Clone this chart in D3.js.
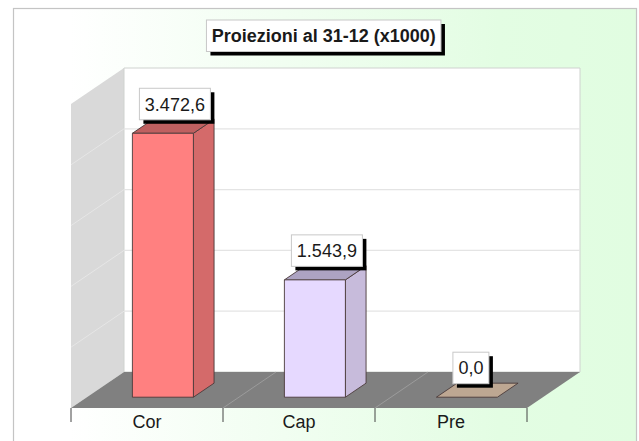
<!DOCTYPE html>
<html>
<head>
<meta charset="utf-8">
<script src="https://cdnjs.cloudflare.com/ajax/libs/d3/7.8.5/d3.min.js"></script>
<style>
  html, body { margin: 0; padding: 0; background: #fff; overflow: hidden; }
  svg { display: block; }
  text { font-family: "Liberation Sans", Arial, sans-serif; fill: #1a1a1a; }
</style>
</head>
<body>
<div id="chart"></div>
<script>
const chartTitle = 'Proiezioni al 31-12 (x1000)';
const categories = ['Cor', 'Cap', 'Pre'];
const values = [3472.6, 1543.9, 0];
const valueLabels = ['3.472,6', '1.543,9', '0,0'];
const gridValues = [800, 1600, 2400, 3200];
const frontColors = ['#ff8080', '#e6d9ff', '#bda792'];
const sideColors = ['#d46a6a', '#c7bbdb', '#9d8b79'];
const topColors = ['#bf6060', '#ada3c2', '#bda792'];

const W = 639, H = 441;
const svg = d3.select('#chart').append('svg').attr('width', W).attr('height', H);

const grad = svg.append('defs').append('linearGradient').attr('id', 'bg');
grad.append('stop').attr('offset', '9%').attr('stop-color', '#ffffff');
grad.append('stop').attr('offset', '78%').attr('stop-color', '#e3fde3');
grad.append('stop').attr('offset', '100%').attr('stop-color', '#e1fde1');

svg.append('rect').attr('x', 13.5).attr('y', 8.5).attr('width', 623).attr('height', 440)
  .attr('fill', 'url(#bg)').attr('stroke', '#c4c4c4').attr('stroke-width', 1.2);

// front plane of the plot, back wall sits depthX/depthY away from it
const x = d3.scaleBand().domain(categories).range([71, 527]).paddingInner(0).paddingOuter(0);
const y = d3.scaleLinear().domain([0, 4000]).range([408, 104]);
const depthX = 53, depthY = -36;
const barDepth = [0.3, 0.69];
const barWidth = 61;

const pt = (px, py, d) => [px + depthX * d, py + depthY * d];
const line = d3.line();
const poly = pts => line(pts) + 'Z';

const y0 = y(0), yMax = y(4000);

// walls and floor
svg.append('path')
  .attr('d', poly([pt(71, yMax, 0), pt(71, yMax, 1), pt(71, y0, 1), pt(71, y0, 0)]))
  .attr('fill', '#d9d9d9');
svg.append('path')
  .attr('d', poly([pt(71, yMax, 1), pt(527, yMax, 1), pt(527, y0, 1), pt(71, y0, 1)]))
  .attr('fill', '#fff').attr('stroke', '#cfd2cf').attr('stroke-width', 1);
svg.append('path')
  .attr('d', poly([pt(71, y0, 0), pt(527, y0, 0), pt(527, y0, 1), pt(71, y0, 1)]))
  .attr('fill', '#808080');

// gridlines, back wall then side wall
svg.selectAll('.grid-back').data(gridValues).enter().append('line')
  .attr('class', 'grid-back')
  .attr('x1', pt(71, 0, 1)[0]).attr('x2', pt(527, 0, 1)[0])
  .attr('y1', d => pt(0, y(d), 1)[1]).attr('y2', d => pt(0, y(d), 1)[1])
  .attr('stroke', '#e4e4e4').attr('stroke-width', 1.2);
svg.selectAll('.grid-side').data(gridValues).enter().append('line')
  .attr('class', 'grid-side')
  .attr('x1', 71).attr('y1', d => y(d))
  .attr('x2', pt(71, 0, 1)[0]).attr('y2', d => pt(0, y(d), 1)[1])
  .attr('stroke', '#e6e6e6').attr('stroke-width', 1);

// floor dividers and axis ticks
const edges = categories.map(c => x(c)).concat(x.range()[1]);
svg.selectAll('.floor-line').data(edges.slice(1, -1)).enter().append('line')
  .attr('class', 'floor-line')
  .attr('x1', d => d).attr('y1', y0)
  .attr('x2', d => pt(d, y0, 1)[0]).attr('y2', pt(0, y0, 1)[1])
  .attr('stroke', '#a2a2a2').attr('stroke-width', 0.8);
svg.selectAll('.tick-line').data(edges).enter().append('line')
  .attr('class', 'tick-line')
  .attr('x1', d => d).attr('x2', d => d).attr('y1', y0).attr('y2', y0 + 14)
  .attr('stroke', '#444').attr('stroke-width', 1);

const axis = svg.append('g').attr('transform', `translate(0,${y0})`)
  .call(d3.axisBottom(x).tickSize(0).tickPadding(7));
axis.select('.domain').remove();
axis.selectAll('text').attr('font-size', 18).attr('font-family', '"Liberation Sans", Arial, sans-serif');

// bars
const bars = svg.selectAll('.bar').data(categories.map((c, i) => ({ c, i, v: values[i] })))
  .enter().append('g').attr('class', 'bar')
  .attr('stroke', '#4a3a3a').attr('stroke-width', 0.9).attr('stroke-linejoin', 'round');

const barL = d => x(d.c) + (x.bandwidth() - barWidth) / 2;
const barR = d => barL(d) + barWidth;
bars.filter(d => d.v > 0).append('path')
  .attr('d', d => poly([pt(barR(d), y0, barDepth[0]), pt(barR(d), y0, barDepth[1]), pt(barR(d), y(d.v), barDepth[1]), pt(barR(d), y(d.v), barDepth[0])]))
  .attr('fill', d => sideColors[d.i]);
bars.append('path')
  .attr('d', d => poly([pt(barL(d), y(d.v), barDepth[0]), pt(barR(d), y(d.v), barDepth[0]), pt(barR(d), y(d.v), barDepth[1]), pt(barL(d), y(d.v), barDepth[1])]))
  .attr('fill', d => topColors[d.i]);
bars.filter(d => d.v > 0).append('path')
  .attr('d', d => poly([pt(barL(d), y0, barDepth[0]), pt(barR(d), y0, barDepth[0]), pt(barR(d), y(d.v), barDepth[0]), pt(barL(d), y(d.v), barDepth[0])]))
  .attr('fill', d => frontColors[d.i]);

// boxed label with a hard black shadow
function box(cx, bottom, w, h, label, size, weight) {
  const g = svg.append('g');
  const left = cx - w / 2, top = bottom - h;
  g.append('rect').attr('x', left + 4).attr('y', top + 4).attr('width', w).attr('height', h).attr('fill', '#000');
  g.append('rect').attr('x', left).attr('y', top).attr('width', w).attr('height', h)
    .attr('fill', '#fff').attr('stroke', '#c8c8c8').attr('stroke-width', 1);
  g.append('text').attr('x', cx).attr('y', top + h / 2 + size * 0.36)
    .attr('text-anchor', 'middle').attr('font-size', size).attr('font-weight', weight).text(label);
}

categories.forEach((c, i) => {
  const frontCx = x(c) + x.bandwidth() / 2 + depthX * barDepth[0];
  const top = pt(0, y(values[i]), barDepth[0])[1];
  const w = valueLabels[i].length > 3 ? 71 : 36;
  box(frontCx + (values[i] > 0 ? 12 : 4), top - 13.5, w, 31.5, valueLabels[i], 18, 'normal');
});

box(323.7, 51.5, 234.5, 31.5, chartTitle, 18, 'bold');
</script>
</body>
</html>
